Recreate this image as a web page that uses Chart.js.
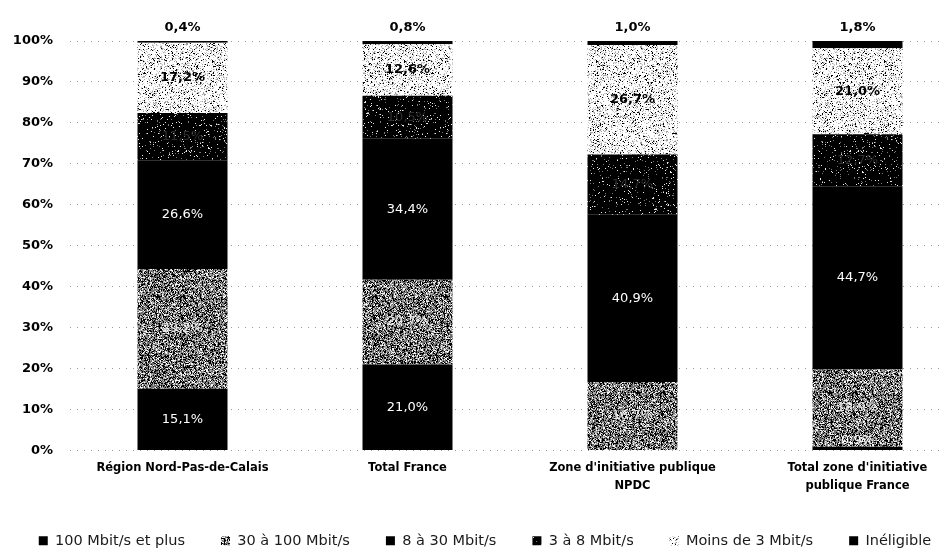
<!DOCTYPE html>
<html>
<head>
<meta charset="utf-8">
<script src="https://cdn.jsdelivr.net/npm/chart.js@4/dist/chart.umd.min.js"></script>
<style>
  html, body { margin: 0; padding: 0; background: #fff; overflow: hidden; }
  #wrap { width: 970px; height: 552px; position: relative; }
</style>
</head>
<body>
<div id="wrap"><canvas id="c"></canvas></div>
<script>
// Répartition des lignes par débit (%)
const categories = [
  'Région Nord-Pas-de-Calais',
  'Total France',
  ["Zone d'initiative publique", 'NPDC'],
  ["Total zone d'initiative", 'publique France']
];
const seriesNames = ['100 Mbit/s et plus', '30 à 100 Mbit/s', '8 à 30 Mbit/s', '3 à 8 Mbit/s', 'Moins de 3 Mbit/s', 'Inéligible'];
const plus100   = [15.1, 21.0, 0.0, 0.9];
const from30    = [29.2, 20.7, 16.7, 18.9];
const from8     = [26.6, 34.4, 40.9, 44.7];
const from3     = [11.5, 10.5, 14.7, 12.7];
const below3    = [17.2, 12.6, 26.7, 21.0];
const ineligible = [0.4, 0.8, 1.0, 1.8];
const yTicks = [0, 10, 20, 30, 40, 50, 60, 70, 80, 90, 100];

// Stippled fills built from a small seeded generator
function stipple(size, seed, pick) {
  const cv = document.createElement('canvas');
  cv.width = cv.height = size;
  const cx = cv.getContext('2d');
  const img = cx.createImageData(size, size);
  let s = seed >>> 0;
  for (let i = 0; i < size * size; i++) {
    s = (Math.imul(s, 1664525) + 1013904223) >>> 0;
    const v = pick(s / 4294967296);
    img.data[i * 4] = v; img.data[i * 4 + 1] = v; img.data[i * 4 + 2] = v; img.data[i * 4 + 3] = 255;
  }
  cx.putImageData(img, 0, 0);
  return cx.createPattern(cv, 'repeat');
}
const greyNoise = stipple(96, 12345, r => r < 0.3 ? 0 : (r < 0.62 ? 110 : (r < 0.82 ? 170 : 245)));
const darkNoise = stipple(96, 777, r => r < 0.93 ? 0 : (r < 0.965 ? 120 : 235));
const lightNoise = stipple(96, 4242, r => r < 0.08 ? 0 : (r < 0.2 ? 160 : (r < 0.3 ? 210 : 255)));

const fills = ['#000000', greyNoise, '#000000', darkNoise, lightNoise, '#000000'];
const values = [plus100, from30, from8, from3, below3, ineligible];
const labelColors = ['#ffffff', '#e4e4e4', '#ffffff', '#2e2e2e', '#000000', '#000000'];
const labelWeights = ['normal', 'normal', 'normal', 'normal', 'bold', 'bold'];

const fmt = v => v.toFixed(1).replace('.', ',') + '%';

const segmentLabels = {
  id: 'segmentLabels',
  afterDatasetsDraw(chart) {
    const ctx = chart.ctx;
    ctx.save();
    ctx.textAlign = 'center';
    ctx.textBaseline = 'middle';
    chart.data.datasets.forEach((ds, di) => {
      const meta = chart.getDatasetMeta(di);
      meta.data.forEach((bar, i) => {
        const v = ds.data[i];
        if (!v) return;
        ctx.fillStyle = labelColors[di];
        ctx.font = labelWeights[di] + ' 13px "DejaVu Sans", sans-serif';
        if (di === 5) {
          ctx.fillText(fmt(v), bar.x, bar.y - 13);
        } else {
          const mid = (bar.y + bar.base) / 2;
          ctx.fillText(fmt(v), bar.x, Math.min(mid, bar.base - 9));
        }
      });
    });
    ctx.restore();
  }
};

new Chart(document.getElementById('c'), {
  type: 'bar',
  data: {
    labels: categories,
    datasets: seriesNames.map((name, k) => ({
      label: name,
      data: values[k],
      backgroundColor: fills[k],
      borderWidth: 0,
      categoryPercentage: 1,
      barPercentage: 0.4
    }))
  },
  options: {
    responsive: true,
    maintainAspectRatio: false,
    animation: false,
    layout: { padding: { top: 41, right: 0, left: 0, bottom: -6 } },
    plugins: {
      tooltip: { enabled: false },
      legend: {
        position: 'bottom',
        labels: {
          boxWidth: 9,
          boxHeight: 9,
          padding: 36,
          color: '#1a1a1a',
          font: { family: '"DejaVu Sans", sans-serif', size: 14.5 }
        }
      }
    },
    scales: {
      x: {
        stacked: true,
        grid: { display: false },
        border: { display: false },
        ticks: {
          color: '#000',
          padding: 1,
          maxRotation: 0,
          autoSkip: false,
          font: { family: '"DejaVu Sans", sans-serif', size: 11.5, weight: 'bold', lineHeight: 1.55 }
        },
        afterFit(scale) { scale.height = 47; }
      },
      y: {
        stacked: true,
        min: 0,
        max: 100,
        afterBuildTicks(scale) { scale.ticks = yTicks.map(v => ({ value: v })); },
        grid: { color: '#9a9a9a', lineWidth: 1, drawTicks: false },
        border: { display: false, dash: [1, 6] },
        ticks: {
          color: '#000',
          padding: 17,
          font: { family: '"DejaVu Sans", sans-serif', size: 13, weight: 'bold' },
          callback: v => v + '%'
        },
        afterFit(scale) { scale.width = 70; }
      }
    }
  },
  plugins: [segmentLabels]
});
</script>
</body>
</html>
